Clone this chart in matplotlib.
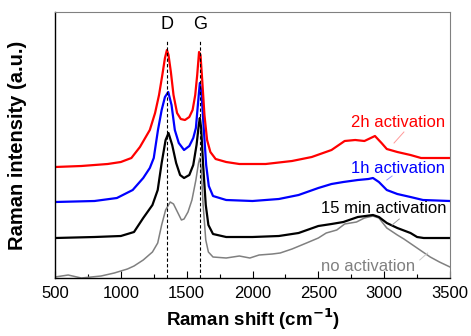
import matplotlib
matplotlib.use("Agg")
import matplotlib.pyplot as plt
import numpy as np

plt.rcParams["font.family"] = ["Liberation Sans", "DejaVu Sans"]

# Raman spectra (wavenumber in cm-1, intensity in arbitrary offset units)
red_x = [500, 700, 900, 1000, 1080, 1145, 1220, 1260, 1290, 1315, 1335, 1350, 1362, 1380, 1400,
         1427, 1455, 1487, 1520, 1545, 1565, 1580, 1594, 1605, 1618, 1635, 1655, 1680, 1720, 1800,
         1900, 2100, 2300, 2450, 2600, 2700, 2780, 2850, 2930, 2980, 3020, 3100, 3200, 3280, 3500]
red_y = [111, 112, 114, 116, 120, 131, 148, 165, 183, 203, 220, 228, 223, 206, 183,
         165, 159, 158, 161, 168, 183, 203, 226, 223, 198, 163, 138, 126, 119, 116,
         114, 114, 117, 121, 128, 137, 138, 137, 142, 135, 129, 126, 123, 120, 120]

blue_x = [500, 800, 970, 1090, 1170, 1220, 1250, 1282, 1310, 1335, 1360, 1385, 1410, 1440, 1480,
          1520, 1550, 1570, 1585, 1600, 1612, 1628, 1648, 1668, 1700, 1800, 2000, 2200, 2350, 2500,
          2600, 2690, 2800, 2880, 2915, 2960, 3020, 3100, 3200, 3295, 3500]
blue_y = [76, 77, 80, 88, 100, 110, 120, 148, 168, 181, 186, 173, 148, 135, 128,
          132, 140, 150, 173, 195, 186, 153, 113, 92, 82, 78, 77, 79, 83, 90,
          94, 96, 98, 99, 100, 96, 88, 84, 81, 78, 77]

black_x = [500, 800, 1000, 1100, 1170, 1240, 1280, 1310, 1340, 1362, 1390, 1420, 1450, 1480, 1520,
           1550, 1575, 1592, 1600, 1610, 1625, 1645, 1665, 1700, 1800, 2000, 2200, 2350, 2500, 2600,
           2690, 2800, 2915, 2960, 3020, 3100, 3200, 3250, 3300, 3500]
black_y = [40, 41, 42, 46, 60, 73, 88, 115, 138, 145, 133, 115, 103, 100, 103,
           113, 133, 153, 160, 150, 113, 73, 53, 44, 41, 41, 42, 45, 52, 54,
           56, 61, 63, 61, 55, 50, 45, 41, 40, 40]

gray_x = [500, 600, 700, 850, 950, 1050, 1100, 1170, 1240, 1280, 1310, 1340, 1375, 1400, 1430,
          1460, 1480, 1510, 1540, 1570, 1590, 1600, 1610, 1625, 1645, 1665, 1700, 1800, 1900, 1980,
          2050, 2150, 2210, 2300, 2410, 2500, 2560, 2640, 2700, 2790, 2850, 2915, 2960, 3020, 3100,
          3150, 3250, 3350, 3420, 3500]
gray_y = [1, 3, 0, 2, 5, 9, 12, 18, 26, 35, 53, 68, 76, 74, 66,
          58, 59, 66, 78, 98, 115, 120, 110, 73, 38, 26, 21, 20, 22, 20,
          23, 24, 25, 29, 35, 40, 45, 48, 54, 56, 60, 62, 60, 50, 43,
          39, 30, 21, 16, 11]

labels = ["2h activation", "1h activation", "15 min activation", "no activation"]
label_x = [3462, 3462, 3476, 3234]
label_y = [155, 110, 70, 12]
colors = ["#ff0000", "#0000ff", "#000000", "#808080"]
leader_colors = ["#ff9999", "#9999ff", "#999999", "#c8c8c8"]
leader_x = [[3150, 3075], [3020, 3060], [3060, 3115], [3270, 3330]]
leader_y = [[146, 135], [98, 102], [53, 59], [18, 25]]

peak_pos = [1350, 1600]
peak_names = ["D", "G"]

fig = plt.figure(figsize=(4.71, 3.36), dpi=100)
ax = fig.add_axes([0.1168, 0.1726, 0.9554 - 0.1168, 0.9643 - 0.1726])

ax.plot(gray_x, gray_y, color=colors[3], lw=1.1)
ax.plot(black_x, black_y, color=colors[2], lw=1.6)
ax.plot(blue_x, blue_y, color=colors[1], lw=1.6)
ax.plot(red_x, red_y, color=colors[0], lw=1.6)

for p, n in zip(peak_pos, peak_names):
    ax.plot([p, p], [0, 238], color="black", lw=0.8, ls=(0, (3, 2)))
    ax.text(p, 253, n, ha="center", va="center", fontsize=13)

for lab, lx, ly, c, lc, xs, ys in zip(labels, label_x, label_y, colors, leader_colors, leader_x, leader_y):
    ax.plot(xs, ys, color=lc, lw=0.7)
    ax.text(lx, ly, lab, ha="right", va="center", fontsize=12, color=c)

ax.set_xlim(500, 3500)
ax.set_ylim(0, 266)
ax.set_xticks([500, 1000, 1500, 2000, 2500, 3000, 3500])
ax.set_xticks(np.arange(750, 3500, 500), minor=True)
ax.set_yticks([])
ax.tick_params(axis="x", direction="in", length=5, width=0.8, labelsize=12, pad=6)
ax.tick_params(axis="x", which="minor", direction="in", length=3, width=0.8)
for s in ["top", "right"]:
    ax.spines[s].set_color("#808080")
for s in ["left", "bottom"]:
    ax.spines[s].set_linewidth(1.0)

ax.set_xlabel("Raman shift (cm$^{\\mathbf{-1}}$)", fontsize=13.5, fontweight="bold", labelpad=4)
ax.set_ylabel("Raman intensity (a.u.)", fontsize=14.5, fontweight="bold", labelpad=20)

fig.savefig("out.png", dpi=100)
